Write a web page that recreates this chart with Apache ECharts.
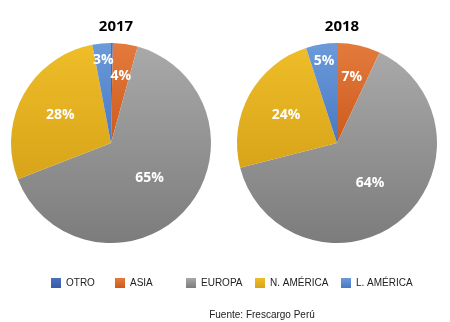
<!DOCTYPE html>
<html><head><meta charset="utf-8">
<script src="https://cdn.jsdelivr.net/npm/echarts@6/dist/echarts.min.js"></script>
<style>html,body{margin:0;padding:0;background:#fff}#c{width:450px;height:322px}</style>
</head><body><div id="c"></div>
<script>
const categories = ['OTRO', 'ASIA', 'EUROPA', 'N. AMÉRICA', 'L. AMÉRICA'];
const years = ['2017', '2018'];
const values2017 = [0.3, 4, 65, 28, 3];
const values2018 = [0, 7, 64, 24, 5];
const labels2017 = ['', '4%', '65%', '28%', '3%'];
const labels2018 = ['', '7%', '64%', '24%', '5%'];
const source = 'Fuente: Frescargo Perú';

// styling
const W = 450, H = 322, R = 100;
const centers = [[111, 143], [337, 143]];
const labelFrac = [0.9, 0.68, 0.52, 0.58, 0.83];
const grads = [
  ['#4B70BE', '#3A5BA6'],
  ['#E37B3D', '#CD5A1D'],
  ['#A9A9A9', '#7C7C7C'],
  ['#EEBD28', '#D8A41A'],
  ['#6C9BDA', '#4A78C2']
];
const legendLeft = [51, 115, 186, 255, 341];
const font = '"Open Sans", "Noto Sans", sans-serif';
const narrow = '"Liberation Sans", Arial, sans-serif';

function grad(i) {
  return new echarts.graphic.LinearGradient(0, 0, 0, 1, [
    { offset: 0, color: grads[i][0] }, { offset: 1, color: grads[i][1] }
  ]);
}

function makeSeries(k, vals, labs) {
  const c = centers[k];
  return {
    type: 'pie',
    name: years[k],
    center: c,
    radius: R,
    startAngle: 90,
    clockwise: true,
    avoidLabelOverlap: false,
    silent: true,
    data: categories.map((n, i) => ({
      name: n, value: vals[i],
      itemStyle: { color: grad(i) },
      label: { show: labs[i] !== '' }
    })),
    label: {
      position: 'inside',
      formatter: p => labs[p.dataIndex],
      color: '#fff', fontWeight: 'bold', fontSize: 14, fontFamily: font
    },
    labelLine: { show: false },
    labelLayout: function (p) {
      const lr = p.labelRect;
      const lx = lr.x + lr.width / 2, ly = lr.y + lr.height / 2;
      const vx = lx - c[0], vy = ly - c[1];
      const d = Math.sqrt(vx * vx + vy * vy) || 1;
      const target = labelFrac[p.dataIndex] * R;
      return { dx: vx / d * (target - d), dy: vy / d * (target - d) };
    },
    itemStyle: { borderWidth: 0 }
  };
}

const chart = echarts.init(document.getElementById('c'), null, { renderer: 'canvas' });
chart.setOption({
  animation: false,
  backgroundColor: '#fff',
  title: [
    { text: years[0], left: centers[0][0], top: 14, textAlign: 'center',
      textStyle: { fontSize: 15, fontWeight: 'bold', color: '#000', fontFamily: font } },
    { text: years[1], left: centers[1][0], top: 14, textAlign: 'center',
      textStyle: { fontSize: 15, fontWeight: 'bold', color: '#000', fontFamily: font } },
    { text: source, left: 257, top: 305, textAlign: 'center',
      textStyle: { fontSize: 10, fontWeight: 'normal', color: '#222', fontFamily: narrow } }
  ],
  legend: categories.map((n, i) => ({
    data: [n], left: legendLeft[i], top: 278,
    itemWidth: 10, itemHeight: 10, itemGap: 0,
    icon: 'rect', selectedMode: false,
    textStyle: { fontSize: 10, color: '#222', fontFamily: narrow, padding: [0, 0, 0, 0] },
    padding: 0
  })),
  series: [makeSeries(0, values2017, labels2017), makeSeries(1, values2018, labels2018)]
});
</script></body></html>
